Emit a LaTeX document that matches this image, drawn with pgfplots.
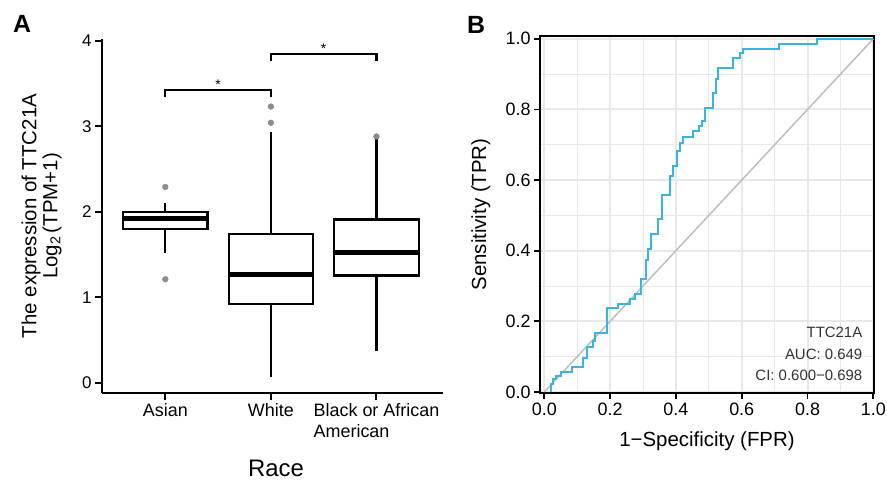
\documentclass[border=0pt]{standalone}
\usepackage{fontspec}
\setmainfont{Liberation Sans}
\usepackage{pgfplots}
\pgfplotsset{compat=1.18}
\usepgfplotslibrary{statistics}
\definecolor{roccyan}{RGB}{58,182,222}
\definecolor{outgray}{RGB}{140,140,140}
\definecolor{diaggray}{RGB}{190,190,190}
\definecolor{gridgray}{RGB}{232,232,232}

\begin{document}
\begin{tikzpicture}
\path[use as bounding box] (0bp,0bp) rectangle (887bp,481bp);

\node[font=\bfseries\fontsize{25}{25}\selectfont] at (22bp,457bp) {A};
\node[font=\bfseries\fontsize{25}{25}\selectfont] at (476bp,456bp) {B};

% A: expression by race
\begin{axis}[
  at={(102bp,88bp)}, anchor=south west,
  width=341bp, height=354bp, scale only axis,
  xmin=0.4, xmax=3.63, ymin=-0.12, ymax=4.02,
  axis lines=left, axis line style={-, line width=2bp},
  xtick={1,2,3},
  xticklabels={Asian, White, Black or African\\American},
  xticklabel style={align=left, font=\fontsize{18}{21}\selectfont},
  ytick={0,1,2,3,4},
  yticklabel style={font=\fontsize{17}{18}\selectfont},
  /pgf/number format/assume math mode=true,
  tick align=outside, major tick length=7bp,
  tick style={black, line width=2bp},
  ylabel={The expression of TTC21A\\Log\textsubscript{2}\,(TPM+1)},
  ylabel style={at={(axis description cs:-0.177,0.5)}, anchor=center, align=center,
    font=\fontsize{20.5}{21}\selectfont},
  xlabel={Race},
  xlabel style={at={(axis description cs:0.51,-0.237)}, anchor=base,
    font=\fontsize{24}{26}\selectfont},
  boxplot/draw direction=y,
  boxplot/every median/.style={line width=5bp},
  clip=false,
]
\addplot[black, line width=2.2bp, fill=white,
  boxplot prepared={lower whisker=1.52, lower quartile=1.80, median=1.92,
    upper quartile=2.00, upper whisker=2.10, draw position=1,
    box extend=0.8, whisker extend=0}] coordinates {};
\addplot[black, line width=2.2bp, fill=white,
  boxplot prepared={lower whisker=0.07, lower quartile=0.92, median=1.26,
    upper quartile=1.74, upper whisker=2.93, draw position=2,
    box extend=0.8, whisker extend=0}] coordinates {};
\addplot[black, line width=2.2bp, fill=white,
  boxplot prepared={lower whisker=0.37, lower quartile=1.255, median=1.52,
    upper quartile=1.91, upper whisker=2.86, draw position=3,
    box extend=0.8, whisker extend=0}] coordinates {};
% outliers
\addplot[only marks, mark=*, mark size=2.9bp, outgray, draw=none]
  coordinates {(1,2.29) (1,1.21) (2,3.23) (2,3.04) (3,2.88)};
% significance brackets
\addplot[black, line width=2.2bp] coordinates {(1,3.34) (1,3.42) (2,3.42) (2,3.34)};
\addplot[black, line width=2.2bp] coordinates {(2,3.76) (2,3.84) (3,3.84) (3,3.76)};
\node[anchor=base, font=\fontsize{14}{14}\selectfont] at (axis cs:1.5,3.43) {*};
\node[anchor=base, font=\fontsize{14}{14}\selectfont] at (axis cs:2.5,3.85) {*};
\end{axis}

% B: ROC curve
\begin{axis}[
  at={(540bp,88bp)}, anchor=south west,
  width=334bp, height=357bp, scale only axis,
  xmin=-0.013, xmax=1.002, ymin=-0.003, ymax=1.008,
  xtick={0,0.2,0.4,0.6,0.8,1}, ytick={0,0.2,0.4,0.6,0.8,1},
  minor tick num=1,
  grid=both,
  major grid style={gridgray, line width=2bp},
  minor grid style={gridgray, line width=1bp},
  axis line style={line width=2.2bp},
  tick align=outside, xtick pos=bottom, ytick pos=left,
  major tick length=6bp, minor tick length=0pt,
  tick style={black, line width=1.8bp},
  xticklabel style={/pgf/number format/fixed, /pgf/number format/fixed zerofill,
    /pgf/number format/precision=1, font=\fontsize{18}{18}\selectfont},
  yticklabel style={/pgf/number format/fixed, /pgf/number format/fixed zerofill,
    /pgf/number format/precision=1, font=\fontsize{18}{18}\selectfont},
  /pgf/number format/assume math mode=true,
  xlabel={1−Specificity (FPR)},
  xlabel style={at={(axis description cs:0.5,-0.151)}, anchor=base,
    font=\fontsize{20.5}{22}\selectfont},
  ylabel={Sensitivity (TPR)},
  ylabel style={at={(axis description cs:-0.177,0.5)}, anchor=center,
    font=\fontsize{20.5}{22}\selectfont},
]
\addplot[diaggray, line width=1.5bp] coordinates {(0,0) (1,1)};
\addplot[roccyan, line width=2bp] coordinates {
  (0.020,0) (0.020,0.022) (0.027,0.022) (0.027,0.036) (0.037,0.036)
  (0.037,0.045) (0.052,0.045) (0.052,0.057) (0.083,0.057) (0.083,0.071)
  (0.119,0.071) (0.119,0.095) (0.131,0.095) (0.131,0.126) (0.147,0.126)
  (0.147,0.145) (0.154,0.145) (0.154,0.166) (0.190,0.166) (0.190,0.237)
  (0.225,0.237) (0.225,0.250) (0.260,0.250) (0.260,0.263) (0.276,0.263)
  (0.276,0.277) (0.294,0.277) (0.294,0.320) (0.309,0.320) (0.309,0.375)
  (0.316,0.375) (0.316,0.404) (0.324,0.404) (0.324,0.446) (0.347,0.446)
  (0.347,0.489) (0.359,0.489) (0.359,0.557) (0.382,0.557) (0.382,0.611)
  (0.390,0.611) (0.390,0.640) (0.402,0.640) (0.402,0.682) (0.412,0.682)
  (0.412,0.706) (0.422,0.706) (0.422,0.723) (0.451,0.723) (0.451,0.739)
  (0.471,0.739) (0.471,0.753) (0.478,0.753) (0.478,0.767) (0.488,0.767)
  (0.488,0.805) (0.514,0.805) (0.514,0.847) (0.522,0.847) (0.522,0.887)
  (0.529,0.887) (0.529,0.916) (0.573,0.916) (0.573,0.946) (0.595,0.946)
  (0.595,0.960) (0.605,0.960) (0.605,0.972) (0.714,0.972) (0.714,0.986)
  (0.828,0.986) (0.828,1.000) (1.000,1.000)
};
\node[anchor=base east, font=\fontsize{15}{16}\selectfont, black!80] at (axis cs:0.977,0.155) {TTC21A};
\node[anchor=base east, font=\fontsize{15}{16}\selectfont, black!80] at (axis cs:0.977,0.093) {AUC: 0.649};
\node[anchor=base east, font=\fontsize{15}{16}\selectfont, black!80] at (axis cs:0.977,0.031) {CI: 0.600−0.698};
\end{axis}
\end{tikzpicture}
\end{document}
